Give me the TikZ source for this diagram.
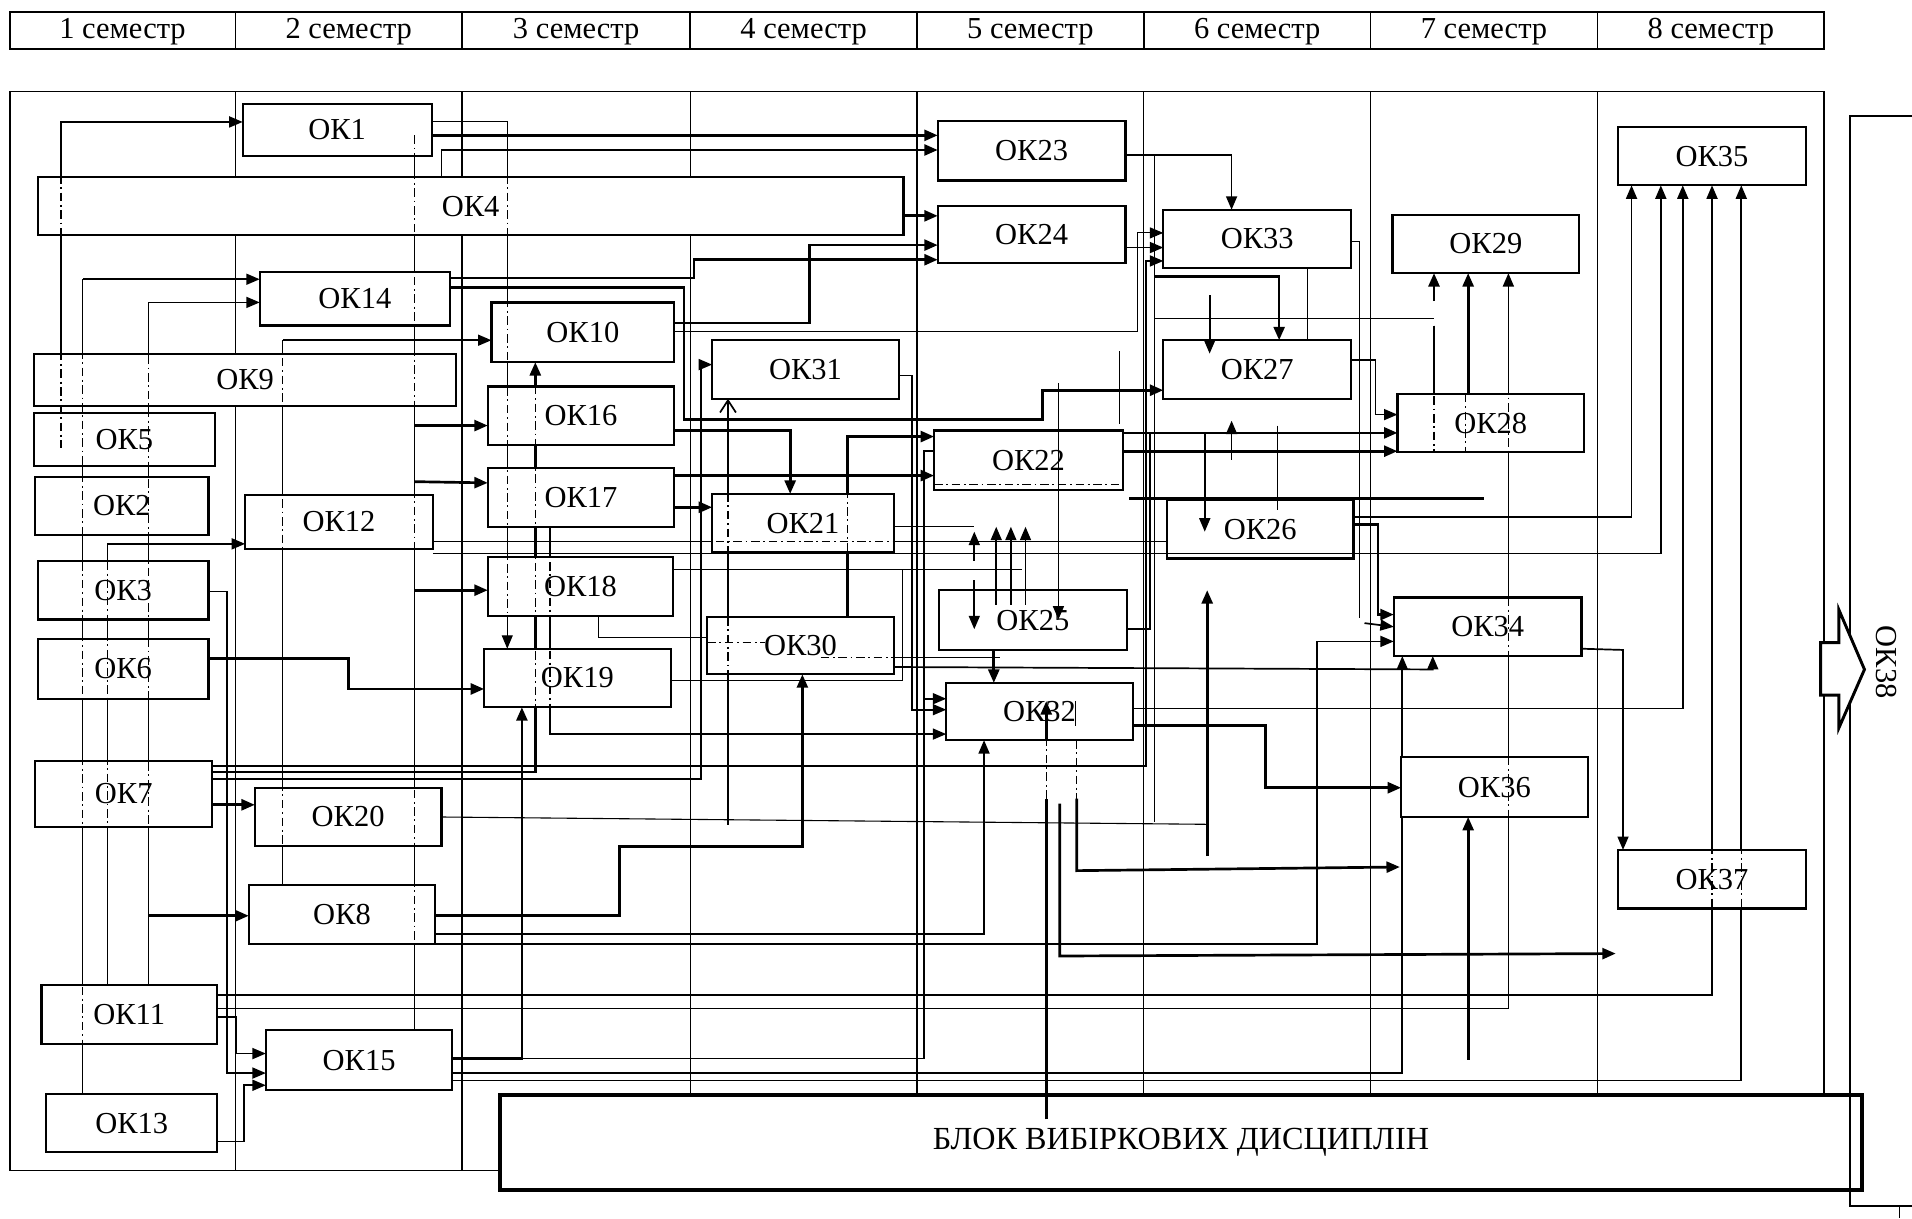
\documentclass[tikz,border=0pt]{standalone}
\usepackage{fontspec}
\setmainfont{Liberation Serif}
\usetikzlibrary{arrows.meta}
\newcommand\fsz{\fontsize{25}{30}\selectfont}
\newcommand\okb[6]{\node[okbox, minimum width=#4pt, minimum height=#5pt] (#1) at (#2,#3) {#6};}
\begin{document}
\begin{tikzpicture}[x=1pt,y=-1pt,
  okbox/.style={draw, line width=1.8pt, fill=white, inner sep=0pt, outer sep=0pt, font=\fsz},
  ln/.style={line width=0.9pt},
  md/.style={line width=1.4pt},
  tk/.style={line width=2.2pt},
  thru/.style={line width=0.9pt, dash pattern=on 7pt off 3pt on 1.5pt off 3pt},
  >={Triangle[length=11pt,width=9pt]}]
\useasboundingbox (0,0) rectangle (1568,999);
% header
\draw[line width=1.8pt] (8,10) rectangle (1496,40);
\foreach \x in {193,379,566,752,938,1124,1310} \draw[line width=1.2pt] (\x,10)--(\x,40);
\foreach \i/\x in {1/100.5,2/286,3/472.5,4/659,5/845,6/1031,7/1217,8/1403}
  \node[font=\fsz, inner sep=0pt] (sem\i) at (\x,26) {\i\ семестр};
% frame
\draw[line width=1.4pt] (8,75) rectangle (1496,960);
\foreach \x in {193,379,566,752,938,1124,1310} \draw[line width=1.1pt] (\x,75)--(\x,960);

% ---------- invisible placement of boxes (for anchors)
\begin{scope}[opacity=0]
\okb{ok1}{276.5}{106.5}{155}{43}{}
\okb{ok4}{386}{169}{710}{48}{}
\okb{ok14}{291}{245}{156}{44}{}
\okb{ok10}{478}{272.5}{150}{49}{}
\okb{ok9}{201}{311.5}{346}{43}{}
\okb{ok5}{102}{360.5}{148}{43}{}
\okb{ok2}{100}{415}{142}{48}{}
\okb{ok3}{101}{484}{140}{48}{}
\okb{ok6}{101}{548.5}{140}{49}{}
\okb{ok7}{101.5}{651}{145}{54}{}
\okb{ok11}{106}{832}{144}{48}{}
\okb{ok13}{108}{921}{140}{48}{}
\okb{ok12}{278}{428}{154}{44}{}
\okb{ok20}{285.5}{670}{153}{48}{}
\okb{ok8}{280.5}{750}{153}{48}{}
\okb{ok15}{294.5}{869.5}{153}{49}{}
\okb{ok16}{476.5}{341}{153}{48}{}
\okb{ok17}{476.5}{408}{153}{48}{}
\okb{ok18}{476}{481}{152}{48}{}
\okb{ok19}{473.5}{556}{153}{48}{}
\okb{ok31}{660.5}{303}{153}{48}{}
\okb{ok21}{658.5}{429}{149}{48}{}
\okb{ok30}{656.5}{529.5}{153}{47}{}
\okb{ok23}{846}{123.5}{154}{49}{}
\okb{ok24}{846}{192.5}{154}{47}{}
\okb{ok22}{843.5}{377.5}{155}{49}{}
\okb{ok25}{847}{508.5}{154}{49}{}
\okb{ok32}{852.5}{583.5}{153}{47}{}
\okb{ok33}{1031}{196}{154}{48}{}
\okb{ok27}{1031}{303}{154}{48}{}
\okb{ok26}{1033.5}{434}{153}{48}{}
\okb{ok29}{1218.5}{200}{153}{48}{}
\okb{ok28}{1222.5}{347}{153}{48}{}
\okb{ok34}{1220}{514}{154}{48}{}
\okb{ok36}{1225.5}{645.5}{153}{49}{}
\okb{ok35}{1404}{128}{154}{48}{}
\okb{ok37}{1404}{721}{154}{48}{}
\end{scope}

% ---------- connectors under boxes
\draw[md,->] (50,367) |- (ok1.west |- 0,100);
\draw[ln] (68,897) -- (68,229);
\draw[md,->] (68,229) -- (ok14.west |- 0,229);
\draw[ln] (88,808) -- (88,446);
\draw[md,->] (88,446) -- (ok12.west |- 0,446);
\draw[ln] (122,808) -- (122,248);
\draw[md,->] (122,248) -- (ok14.west |- 0,248);
\draw[tk,->] (122,751) -- (ok8.west |- 0,751);
\draw[ln] (232,726) -- (232,279);
\draw[md,->] (232,279) -- (ok10.west |- 0,279);
\draw[md] (340,845) -- (340,111);
\draw[tk,->] (340,111) -- (ok23.west |- 0,111);
\draw[tk,->] (340,349) -- (ok16.west |- 0,349);
\draw[tk,->] (340,395) -- (ok17.west |- 0,396);
\draw[tk,->] (340,484) -- (ok18.west |- 0,484);
\draw[ln] (362,145) -- (362,123);
\draw[tk,->] (362,123) -- (ok23.west |- 0,123);
\draw[ln,->] (ok1.east |- 0,100) -- (416,100) -- (ok19.north -| 416,0);
\draw[tk,->] (ok4.east |- 0,177) -- (ok24.west |- 0,177);
\draw[tk,->] (ok14.east |- 0,228) -- (569,228) -- (569,213) -- (ok24.west |- 0,213);
\draw[tk,->] (ok10.east |- 0,265) -- (664,265) -- (664,201) -- (ok24.west |- 0,201);
\draw[tk,->] (ok14.east |- 0,236) -- (561,236) -- (561,344) -- (855,344) -- (855,320) -- (ok27.west |- 0,320);
\draw[ln,->] (ok10.east |- 0,272) -- (933,272) -- (933,191) -- (ok33.west |- 0,191);
\draw[md,->] (ok23.east |- 0,127) -- (1010,127) -- (ok33.north -| 1010,0);
\draw[ln] (947,127) -- (947,674);
\draw[tk,->] (947,227) -- (1049,227) -- (ok27.north -| 1049,0);
\draw[ln] (ok33.south -| 1072,0) -- (ok27.north -| 1072,0);
\draw[ln] (947,261) -- (1176,261);
\draw[ln] (1176,267) -- (1176,371);
\draw[tk,->] (1176,247) -- (ok29.south -| 1176,0);
\draw[tk,->] (ok28.north -| 1204,0) -- (ok29.south -| 1204,0);
\draw[md,->] (ok11.east |- 0,827) -- (1237,827) -- (ok29.south -| 1237,0);
\draw[md,->] (ok27.east |- 0,295) -- (1128,295) -- (1128,340) -- (ok28.west |- 0,340);
\draw[tk,->] (ok22.east |- 0,355) -- (ok28.west |- 0,355);
\draw[tk,->] (ok22.east |- 0,370) -- (ok28.west |- 0,370);
\draw[md,->] (1010,377) -- (1010,345);
\draw[tk] (926,409) -- (1217,409);
\draw[md,->] (ok26.east |- 0,424) -- (1338,424) -- (ok35.south -| 1338,0);
\draw[tk,->] (ok26.east |- 0,430) -- (1130,430) -- (1130,504) -- (ok34.west |- 0,504);
\draw[ln] (ok33.east |- 0,198) -- (1115,198) -- (1115,507);
\draw[md,->] (1119,511) -- (ok34.west |- 0,514);
\draw[md,->] (ok8.east |- 0,774) -- (1080,774) -- (1080,526) -- (ok34.west |- 0,526);
\draw[md,->] (ok30.east |- 0,547) -- (1175,549) -- (ok34.south -| 1175,0);
\draw[md,->] (ok15.east |- 0,880) -- (1150,880) -- (ok34.south -| 1150,0);
\draw[md,->] (ok34.east |- 0,532) -- (1331,533) -- (ok37.north -| 1331,0);
\draw[md,->] (ok32.east |- 0,581) -- (1380,581) -- (ok35.south -| 1380,0);
\draw[md,->] (ok11.east |- 0,816) -- (1404,816) -- (ok35.south -| 1404,0);
\draw[md,->] (ok15.east |- 0,886) -- (1428,886) -- (ok35.south -| 1428,0);
\draw[ln] (ok12.east |- 0,444) -- (ok26.west |- 0,444);
\draw[tk,->] (ok32.east |- 0,595) -- (1038,595) -- (1038,646) -- (ok36.west |- 0,646);
\draw[tk,->] (1204,869) -- (ok36.south -| 1204,0);
\draw[tk,->] (883,655) -- (883,714) -- (1148,711);
\draw[tk,->] (869,659) -- (869,784) -- (1325,782);
\draw[md,->] (ok8.east |- 0,766) -- (807,766) -- (ok32.south -| 807,0);
\draw[tk,->] (ok8.east |- 0,751) -- (508,751) -- (508,694) -- (658,694) -- (ok30.south -| 658,0);
\draw[tk,->] (ok7.east |- 0,633) -- (439,633) -- (ok10.south -| 439,0);
\draw[md,->] (ok7.east |- 0,639) -- (575,639) -- (575,299) -- (ok31.west |- 0,299);
\draw[md,->] (ok7.east |- 0,628) -- (940,628) -- (940,214) -- (ok33.west |- 0,214);
\draw[tk,->] (ok7.east |- 0,660) -- (ok20.west |- 0,660);
\draw[tk,->] (ok6.east |- 0,540) -- (286,540) -- (286,565) -- (ok19.west |- 0,565);
\draw[md,->] (ok3.east |- 0,485) -- (186,485) -- (186,880) -- (ok15.west |- 0,880);
\draw[md,->] (ok11.east |- 0,834) -- (194,834) -- (194,864) -- (ok15.west |- 0,864);
\draw[md,->] (ok13.east |- 0,936) -- (200,936) -- (200,890) -- (ok15.west |- 0,890);
\draw[tk,->] (ok15.east |- 0,868) -- (428,868) -- (ok19.south -| 428,0);
\draw[md] (428,868) -- (758,868) -- (758,370) -- (ok22.west |- 0,370);
\draw[md,->] (758,573) -- (ok32.west |- 0,573);
\draw[tk,->] (ok16.east |- 0,353) -- (648,353) -- (ok21.north -| 648,0);
\draw[tk,->] (ok17.east |- 0,416) -- (ok21.west |- 0,416);
\draw[tk,->] (ok17.east |- 0,390) -- (ok22.west |- 0,390);
\draw[tk,->] (ok30.north -| 695,0) -- (695,358) -- (ok22.west |- 0,358);
\draw[md,-{Straight Barb[length=10pt,width=13pt]}] (597,676) -- (ok31.south -| 597,0);
\draw[ln] (ok18.south -| 491,0) -- (491,523) -- (ok30.west |- 0,523);
\draw[ln] (ok18.east |- 0,467) -- (838,467);
\draw[ln] (740,467) -- (740,558) -- (ok19.east |- 0,558);
\draw[md,->] (ok17.south -| 451,0) -- (451,602) -- (ok32.west |- 0,602);
\draw[md,->] (ok31.east |- 0,308) -- (748,308) -- (748,582) -- (ok32.west |- 0,582);
\draw[ln] (ok21.east |- 0,432) -- (799,432);
\draw[tk,->] (ok25.south -| 815,0) -- (ok32.north -| 815,0);
\draw[ln] (721,539) -- (820,539);
\draw[md] (ok25.east |- 0,516) -- (943,516) -- (943,355);
\draw[md,->] (ok24.east |- 0,203) -- (ok33.west |- 0,203);
\draw[ln] (ok20.east |- 0,670) -- (990,676);
\draw[tk,->] (990,702) -- (990,484);
\draw[ln] (918,288) -- (918,348);

% ---------- boxes
\okb{ok1}{276.5}{106.5}{155}{43}{ОК1}
\okb{ok4}{386}{169}{710}{48}{ОК4}
\okb{ok14}{291}{245}{156}{44}{ОК14}
\okb{ok10}{478}{272.5}{150}{49}{ОК10}
\okb{ok9}{201}{311.5}{346}{43}{ОК9}
\okb{ok5}{102}{360.5}{148}{43}{ОК5}
\okb{ok2}{100}{415}{142}{48}{ОК2}
\okb{ok3}{101}{484}{140}{48}{ОК3}
\okb{ok6}{101}{548.5}{140}{49}{ОК6}
\okb{ok7}{101.5}{651}{145}{54}{ОК7}
\okb{ok11}{106}{832}{144}{48}{ОК11}
\okb{ok13}{108}{921}{140}{48}{ОК13}
\okb{ok12}{278}{428}{154}{44}{ОК12}
\okb{ok20}{285.5}{670}{153}{48}{ОК20}
\okb{ok8}{280.5}{750}{153}{48}{ОК8}
\okb{ok15}{294.5}{869.5}{153}{49}{ОК15}
\okb{ok16}{476.5}{341}{153}{48}{ОК16}
\okb{ok17}{476.5}{408}{153}{48}{ОК17}
\okb{ok18}{476}{481}{152}{48}{ОК18}
\okb{ok19}{473.5}{556}{153}{48}{ОК19}
\okb{ok31}{660.5}{303}{153}{48}{ОК31}
\okb{ok21}{658.5}{429}{149}{48}{ОК21}
\okb{ok30}{656.5}{529.5}{153}{47}{ОК30}
\okb{ok23}{846}{123.5}{154}{49}{ОК23}
\okb{ok24}{846}{192.5}{154}{47}{ОК24}
\okb{ok22}{843.5}{377.5}{155}{49}{ОК22}
\okb{ok25}{847}{508.5}{154}{49}{ОК25}
\okb{ok32}{852.5}{583.5}{153}{47}{ОК32}
\okb{ok33}{1031}{196}{154}{48}{ОК33}
\okb{ok27}{1031}{303}{154}{48}{ОК27}
\okb{ok26}{1033.5}{434}{153}{48}{ОК26}
\okb{ok29}{1218.5}{200}{153}{48}{ОК29}
\okb{ok28}{1222.5}{347}{153}{48}{ОК28}
\okb{ok34}{1220}{514}{154}{48}{ОК34}
\okb{ok36}{1225.5}{645.5}{153}{49}{ОК36}
\okb{ok35}{1404}{128}{154}{48}{ОК35}
\okb{ok37}{1404}{721}{154}{48}{ОК37}
\node[draw, line width=3.5pt, fill=white, inner sep=0pt, minimum width=1117pt, minimum height=78pt, font=\fontsize{26.4}{31}\selectfont] (block) at (968.5,937) {БЛОК ВИБІРКОВИХ ДИСЦИПЛІН};

% ---------- dash-dot parts of lines crossing boxes
\draw[thru] (50,100)--(50,367) (68,229)--(68,897) (88,446)--(88,808) (122,248)--(122,808)
  (232,279)--(232,726) (340,111)--(340,845) (416,100)--(416,525) (439,302)--(439,633)
  (451,432)--(451,602) (597,332)--(597,676) (695,358)--(695,506) (1176,267)--(1176,371)
  (1202,323)--(1202,371) (1237,229)--(1237,827) (1404,157)--(1404,816) (1428,157)--(1428,886)
  (355,444)--(957,444) (766,397)--(921,397) (580,527)--(627,527) (673,539)--(733,539)
  (883,607)--(883,655);

% ---------- lines drawn over boxes
\draw[ln] (ok12.east |- 0,454) -- (1362,454);
\draw[md,->] (1362,454) -- (ok35.south -| 1362,0);
\draw[md,->] (988,355) -- (988,436);
\draw[ln] (1048,349) -- (1048,418);
\draw[md,->] (992,242) -- (992,290);
\draw[md,->] (799,460) -- (799,436);
\draw[md,->] (799,476) -- (799,516);
\draw[md,->] (817,496) -- (817,432);
\draw[md,->] (829,496) -- (829,432);
\draw[md,->] (841,496) -- (841,432);
\draw[md,->] (868,314) -- (868,508);
\draw[ln] (882,575) -- (882,595);
\draw[tk] (858,918) -- (858,655);
\draw[thru] (858,655) -- (858,607);
\draw[tk,->] (858,607) -- (858,575);

% ---------- OK38
\draw[line width=1.8pt] (1568,95) -- (1517,95) -- (1517,989) -- (1568,989);
\draw[ln] (1558,989) -- (1558,999);
\node[rotate=-90, font=\fsz, inner sep=0pt] (ok38) at (1547,543) {ОК38};
\draw[line width=2.4pt, fill=white, line join=miter] (1493,527) -- (1508,527) -- (1508,500) -- (1529,549) -- (1508,597) -- (1508,570) -- (1493,570) -- cycle;
\end{tikzpicture}
\end{document}
